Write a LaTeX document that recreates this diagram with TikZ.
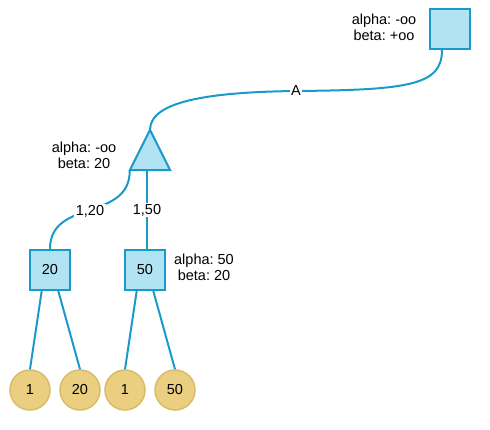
\documentclass[tikz,border=0pt]{standalone}
\usepackage{fontspec}
\setmainfont{Liberation Sans}
\frenchspacing
\definecolor{bfill}{HTML}{B1E3F2}
\definecolor{bline}{HTML}{1A9ACB}
\definecolor{cfill}{HTML}{EBCF80}
\definecolor{cline}{HTML}{D9BB6A}
\begin{document}
\begin{tikzpicture}[x=1pt,y=-1pt,
  every node/.style={font=\fontsize{14.5}{16}\selectfont},
  sqbox/.style={draw=bline,fill=bfill,line width=2pt,minimum size=40pt,inner sep=0pt},
  leaf/.style={circle,draw=cline,fill=cfill,line width=1.5pt,minimum size=40pt,inner sep=0pt},
  edge/.style={draw=bline,line width=2pt},
  elabel/.style={fill=white,inner sep=1.5pt},
  info/.style={align=center,inner sep=0pt}]
\path[use as bounding box] (0,0) rectangle (490,430);
% nodes
\node[sqbox] (top) at (450,29) {};
\node[inner sep=0pt,minimum size=40pt] (tri) at (150,150) {};
\draw[sqbox] (tri.north) -- (tri.south east) -- (tri.south west) -- cycle;
\node[sqbox] (b20) at (50,270) {20};
\node[sqbox] (b50) at (145,270) {50};
\node[leaf] (c1) at (30,390) {1};
\node[leaf] (c2) at (80,390) {20};
\node[leaf] (c3) at (125,390) {1};
\node[leaf] (c4) at (175,390) {50};
% info labels
\node[info] (itop) at (384,27) {alpha: -oo\\beta: +oo};
\node[info] (itri) at (84,155) {alpha: -oo\\beta: 20};
\node[info] (ib50) at (204,267) {alpha: 50\\beta: 20};
% connectors
\coordinate (ts) at ([xshift=-8pt]top.south);
\path[edge] (ts) .. controls (442,85) and (410,90) .. (296,91) coordinate (amid)
  .. controls (215,92) and (150,100) .. (tri.north);
\node[elabel] (la) at (amid) {A};
\path[edge] (tri.south west) .. controls (130,222) and (50,198) .. (b20.north);
\node[elabel] (l120) at (90,211) {1,20};
\coordinate (tv) at ([xshift=-3pt]tri.south);
\coordinate (bv) at ([xshift=2pt]b50.north);
\path[edge] (tv) -- (bv);
\node[elabel] (l150) at (147,210) {1,50};
\path[edge] ([xshift=-8.3pt]b20.south) -- (c1.north);
\path[edge] ([xshift=8.3pt]b20.south) -- (c2.north);
\path[edge] ([xshift=-8.3pt]b50.south) -- (c3.north);
\path[edge] ([xshift=8.3pt]b50.south) -- (c4.north);
\end{tikzpicture}
\end{document}
